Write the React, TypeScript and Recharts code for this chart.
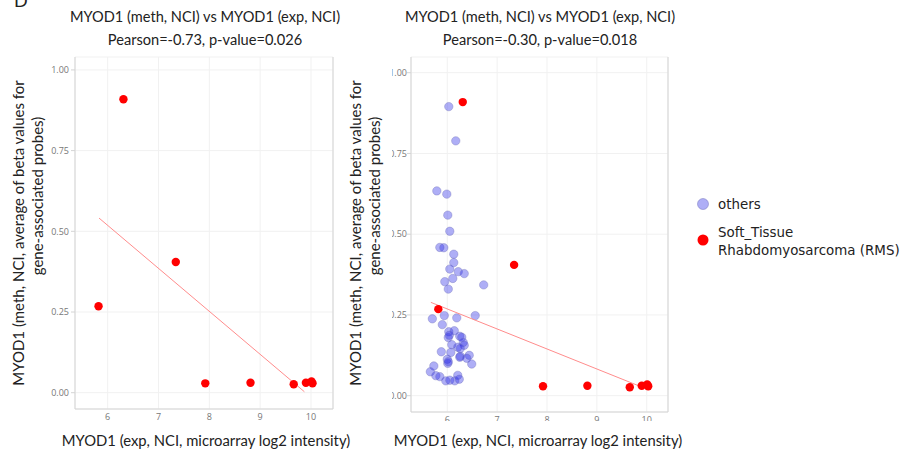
import React from 'react';
import {
  ScatterChart, Scatter, XAxis, YAxis, ZAxis, CartesianGrid, ReferenceLine,
} from 'recharts';

// ---- data ----
const seriesNames = ['others', 'Soft_Tissue Rhabdomyosarcoma (RMS)'];
const xTicks = [6, 7, 8, 9, 10];
const yTicks = [0, 0.25, 0.5, 0.75, 1];

const rmsX = [5.82, 6.31, 7.34, 7.92, 8.81, 9.66, 9.90, 10.01, 10.03];
const rmsY = [0.268, 0.909, 0.405, 0.029, 0.031, 0.026, 0.031, 0.035, 0.029];

const othersX = [
  6.03, 6.17, 5.79, 5.99, 6.01, 6.05, 5.85, 5.93, 6.13, 6.13,
  6.05, 6.22, 6.34, 6.11, 5.95, 6.73, 6.02, 5.70, 5.94, 6.19,
  6.56, 5.90, 6.03, 6.14, 6.02, 6.04, 6.25, 6.29, 6.09, 6.32,
  6.34, 6.21, 6.26, 5.88, 6.07, 6.26, 6.25, 6.44, 6.39, 6.00,
  6.01, 6.02, 6.49, 5.73, 5.66, 5.77, 5.85, 5.97, 6.05, 6.15,
  6.21, 6.24,
];
const othersY = [
  0.895, 0.789, 0.634, 0.624, 0.559, 0.509, 0.459, 0.458, 0.438, 0.412,
  0.392, 0.384, 0.378, 0.363, 0.353, 0.343, 0.330, 0.238, 0.248, 0.241,
  0.248, 0.220, 0.198, 0.201, 0.180, 0.187, 0.184, 0.181, 0.158, 0.165,
  0.156, 0.150, 0.146, 0.136, 0.134, 0.122, 0.119, 0.125, 0.116, 0.113,
  0.100, 0.105, 0.098, 0.092, 0.074, 0.062, 0.059, 0.046, 0.048, 0.046,
  0.063, 0.051,
];

const leftFitX = [5.83, 9.87];
const leftFitY = [0.541, 0.003];
const rightFitX = [5.67, 9.85];
const rightFitY = [0.289, 0.030];

const leftTitle = ['MYOD1 (meth, NCI) vs MYOD1 (exp, NCI)', 'Pearson=-0.73, p-value=0.026'];
const rightTitle = ['MYOD1 (meth, NCI) vs MYOD1 (exp, NCI)', 'Pearson=-0.30, p-value=0.018'];
const yTitle = ['MYOD1 (meth, NCI, average of beta values for', 'gene-associated probes)'];
const xTitle = 'MYOD1 (exp, NCI, microarray log2 intensity)';

const zip = (xs: number[], ys: number[]) => xs.map((x, i) => ({ x, y: ys[i] }));
const rmsData = zip(rmsX, rmsY);
const othersData = zip(othersX, othersY);
const leftFit = zip(leftFitX, leftFitY);
const rightFit = zip(rightFitX, rightFitY);

const RED = '#ff0000';
const titleFont = 'Lato, "Open Sans", sans-serif';
const tickStyle = { fill: '#777', fontSize: 9, fontFamily: '"Open Sans", sans-serif' };

const RedDot = (p: any) => <circle cx={p.cx} cy={p.cy} r={4.2} fill={RED} />;
const BlueDot = (p: any) => (
  <circle cx={p.cx} cy={p.cy} r={4.2} fill="#2a2ae8" fillOpacity={0.38}
    stroke="#7070b8" strokeOpacity={0.55} strokeWidth={0.7} />
);
const NoDot = () => <g />;

function Panel(props: {
  width: number; height: number; yAxisWidth: number; marginRight: number;
  xAxisHeight: number; xDomain: [number, number]; yDomain: [number, number];
  fit: { x: number; y: number }[]; showOthers: boolean; yTickMargin: number;
}) {
  const { width, height, yAxisWidth, marginRight, xAxisHeight, xDomain, yDomain, fit, showOthers, yTickMargin } = props;
  return (
    <ScatterChart width={width} height={height}
      margin={{ top: 57, right: marginRight, bottom: 0, left: 0 }}>
      <CartesianGrid stroke="#f1f1f1" strokeWidth={1} />
      <XAxis type="number" dataKey="x" domain={xDomain} ticks={xTicks} allowDataOverflow
        height={xAxisHeight} tick={tickStyle} tickLine={false} tickSize={5} tickMargin={0}
        axisLine={{ stroke: '#d4d4d4' }} />
      <YAxis type="number" dataKey="y" domain={yDomain} ticks={yTicks} allowDataOverflow
        width={yAxisWidth} tick={tickStyle} tickFormatter={(v: number) => v.toFixed(2)}
        tickSize={4} tickMargin={yTickMargin} tickLine={{ stroke: '#d4d4d4' }}
        axisLine={{ stroke: '#d4d4d4' }} />
      <ZAxis range={[50, 50]} />
      <ReferenceLine x={xDomain[1]} stroke="#d4d4d4" />
      {showOthers && (
        <Scatter data={othersData} shape={BlueDot} isAnimationActive={false} />
      )}
      <Scatter data={fit} line={{ stroke: '#ff8c8c', strokeWidth: 1 }} shape={NoDot}
        isAnimationActive={false} />
      <Scatter data={rmsData} shape={RedDot} isAnimationActive={false} />
    </ScatterChart>
  );
}

export default function App() {
  const txt = '#222';
  return (
    <div style={{ position: 'absolute', left: 0, top: 0, width: 904, height: 449, overflow: 'hidden', background: '#fff' }}>
      {/* left chart */}
      <div style={{ position: 'absolute', left: 0, top: 0 }}>
        <Panel width={345} height={449} yAxisWidth={75} marginRight={12} xAxisHeight={40}
          xDomain={[5.357, 10.433]} yDomain={[-0.0505, 1.04]} fit={leftFit} showOthers={false}
          yTickMargin={2} />
      </div>
      {/* right chart, cropped like the reference */}
      <div style={{ position: 'absolute', left: 392, top: 0, width: 512, height: 421, overflow: 'hidden' }}>
        <div style={{ position: 'absolute', left: -21, top: 0 }}>
          <Panel width={533} height={449} yAxisWidth={40} marginRight={236} xAxisHeight={37}
            xDomain={[5.272, 10.427]} yDomain={[-0.0505, 1.0486]} fit={rightFit} showOthers={true}
            yTickMargin={0} />
        </div>
      </div>
      {/* text overlay */}
      <svg width={904} height={449} style={{ position: 'absolute', left: 0, top: 0, pointerEvents: 'none' }}>
        <text x={14} y={7} fontSize={18} fontFamily={titleFont} fill={txt}>D</text>
        {[{ cx: 205, t: leftTitle }, { cx: 540, t: rightTitle }].map((o, i) => (
          <g key={i} fontFamily={titleFont} fontSize={14.6} fill={txt} textAnchor="middle">
            <text x={o.cx} y={22}>{o.t[0]}</text>
            <text x={o.cx} y={45}>{o.t[1]}</text>
          </g>
        ))}
        {[206, 538].map((cx, i) => (
          <text key={i} x={cx} y={446} fontFamily={titleFont} fontSize={14.8} fill={txt} textAnchor="middle">{xTitle}</text>
        ))}
        {[{ a: 17.5, b: 36.5 }, { a: 355, b: 374 }].map((o, i) => (
          <g key={i} fontFamily={titleFont} fontSize={15} fill={txt} textAnchor="middle">
            <text transform={`translate(${o.a},233) rotate(-90)`} dominantBaseline="central">{yTitle[0]}</text>
            <text transform={`translate(${o.b},196) rotate(-90)`} dominantBaseline="central">{yTitle[1]}</text>
          </g>
        ))}
        {/* legend */}
        <g fontFamily='"DejaVu Sans", Verdana, sans-serif' fontSize={13.4} fill={txt}>
          <circle cx={703} cy={204} r={5.5} fill="#2a2ae8" fillOpacity={0.38} stroke="#7070b8" strokeOpacity={0.6} strokeWidth={0.8} />
          <text x={718} y={204} dominantBaseline="central">{seriesNames[0]}</text>
          <circle cx={703} cy={240} r={5.5} fill={RED} />
          <text x={718} y={232} dominantBaseline="central">{seriesNames[1].split(' ')[0]}</text>
          <text x={718} y={250} dominantBaseline="central">{seriesNames[1].split(' ').slice(1).join(' ')}</text>
        </g>
      </svg>
    </div>
  );
}
